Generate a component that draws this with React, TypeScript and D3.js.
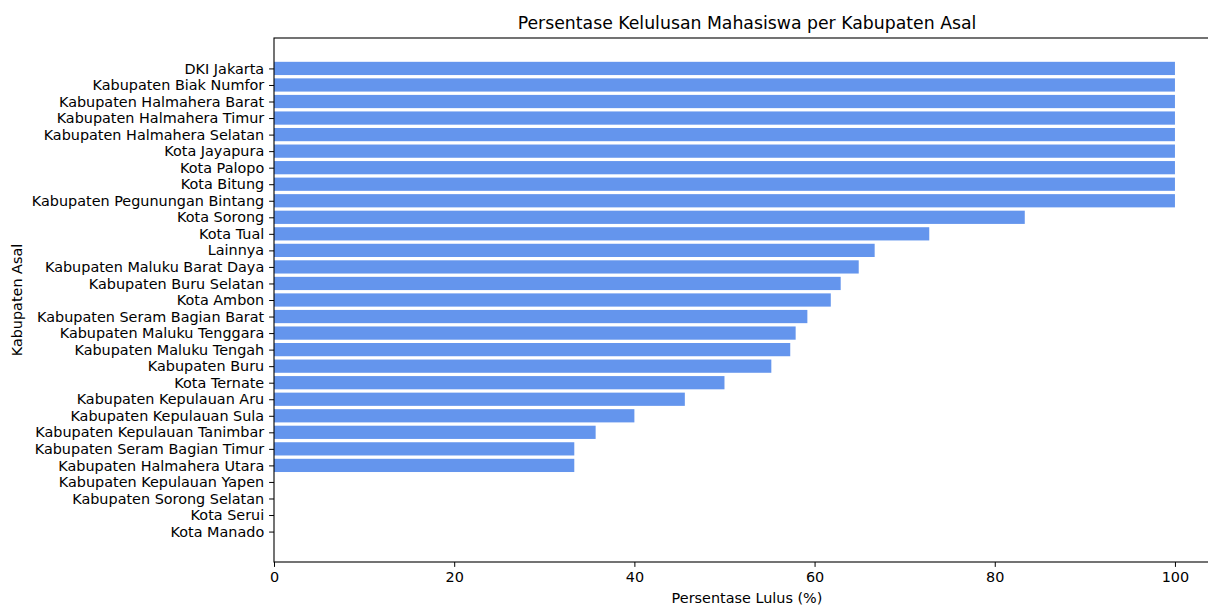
import { useEffect, useRef } from "react";
import * as d3 from "d3";

const regions = [
  "DKI Jakarta",
  "Kabupaten Biak Numfor",
  "Kabupaten Halmahera Barat",
  "Kabupaten Halmahera Timur",
  "Kabupaten Halmahera Selatan",
  "Kota Jayapura",
  "Kota Palopo",
  "Kota Bitung",
  "Kabupaten Pegunungan Bintang",
  "Kota Sorong",
  "Kota Tual",
  "Lainnya",
  "Kabupaten Maluku Barat Daya",
  "Kabupaten Buru Selatan",
  "Kota Ambon",
  "Kabupaten Seram Bagian Barat",
  "Kabupaten Maluku Tenggara",
  "Kabupaten Maluku Tengah",
  "Kabupaten Buru",
  "Kota Ternate",
  "Kabupaten Kepulauan Aru",
  "Kabupaten Kepulauan Sula",
  "Kabupaten Kepulauan Tanimbar",
  "Kabupaten Seram Bagian Timur",
  "Kabupaten Halmahera Utara",
  "Kabupaten Kepulauan Yapen",
  "Kabupaten Sorong Selatan",
  "Kota Serui",
  "Kota Manado",
];

const passRates = [
  100, 100, 100, 100, 100, 100, 100, 100, 100, 83.33, 72.73, 66.67, 64.9,
  62.9, 61.8, 59.2, 57.9, 57.3, 55.2, 50.0, 45.6, 40.0, 35.7, 33.33, 33.33, 0,
  0, 0, 0,
];

const xTicks = [0, 20, 40, 60, 80, 100];

const PassRateChart = () => {
  const svgRef = useRef<SVGSVGElement | null>(null);

  useEffect(() => {
    const svg = d3.select(svgRef.current);
    const width = 1208;
    const height = 606;
    svg.selectAll("*").remove();

    const margin = { top: 38, left: 274, bottom: 44 };
    const plotRight = 1220;
    const plotBottom = height - margin.bottom;
    const font = "DejaVu Sans, Verdana, sans-serif";
    const labelSize = 14.4;

    const n = regions.length;
    const xScale = d3.scaleLinear().domain([0, 105]).range([margin.left, plotRight]);
    // matplotlib style: 0.8 bar height, 5% margins around the bar extent
    const lo = -0.4;
    const hi = n - 1 + 0.4;
    const pad = (hi - lo) * 0.05;
    const yScale = d3
      .scaleLinear()
      .domain([lo - pad, hi + pad])
      .range([margin.top, plotBottom]);

    const data = regions.map((r, i) => ({ region: r, value: passRates[i], i }));

    svg
      .append("g")
      .selectAll("rect")
      .data(data)
      .join("rect")
      .attr("x", xScale(0))
      .attr("y", (d) => yScale(d.i - 0.4))
      .attr("width", (d) => xScale(d.value) - xScale(0))
      .attr("height", (d) => yScale(d.i + 0.4) - yScale(d.i - 0.4))
      .attr("fill", "#6495ed");

    const xAxis = d3
      .axisBottom(xScale)
      .tickValues(xTicks)
      .tickSize(4.9)
      .tickPadding(4.9)
      .tickFormat((d) => `${d}`);

    const gx = svg
      .append("g")
      .attr("transform", `translate(0,${plotBottom})`)
      .call(xAxis);
    gx.select(".domain").remove();

    const yAxis = d3
      .axisLeft(yScale)
      .tickValues(d3.range(n))
      .tickSize(4.9)
      .tickPadding(4.9)
      .tickFormat((d) => regions[d as number]);

    const gy = svg
      .append("g")
      .attr("transform", `translate(${margin.left},0)`)
      .call(yAxis);
    gy.select(".domain").remove();

    svg
      .selectAll(".tick text")
      .attr("font-family", font)
      .attr("font-size", labelSize)
      .attr("fill", "#000");
    svg.selectAll(".tick line").attr("stroke", "#000").attr("stroke-width", 1);

    // spines
    svg
      .append("rect")
      .attr("x", margin.left)
      .attr("y", margin.top)
      .attr("width", plotRight - margin.left)
      .attr("height", plotBottom - margin.top)
      .attr("fill", "none")
      .attr("stroke", "#000")
      .attr("stroke-width", 1.1);

    svg
      .append("text")
      .attr("x", (margin.left + plotRight) / 2)
      .attr("y", 29)
      .attr("text-anchor", "middle")
      .attr("font-family", font)
      .attr("font-size", 17.3)
      .text("Persentase Kelulusan Mahasiswa per Kabupaten Asal");

    svg
      .append("text")
      .attr("x", (margin.left + plotRight) / 2)
      .attr("y", 603)
      .attr("text-anchor", "middle")
      .attr("font-family", font)
      .attr("font-size", labelSize)
      .text("Persentase Lulus (%)");

    svg
      .append("text")
      .attr("transform", `translate(22,${(margin.top + plotBottom) / 2}) rotate(-90)`)
      .attr("text-anchor", "middle")
      .attr("font-family", font)
      .attr("font-size", labelSize)
      .text("Kabupaten Asal");

    svg.attr("viewBox", `0 0 ${width} ${height}`);
  }, []);

  return (
    <svg
      ref={svgRef}
      width={1208}
      height={606}
      style={{ position: "absolute", top: 0, left: 0, background: "#fff" }}
    />
  );
};

export default function App() {
  return <PassRateChart />;
}
